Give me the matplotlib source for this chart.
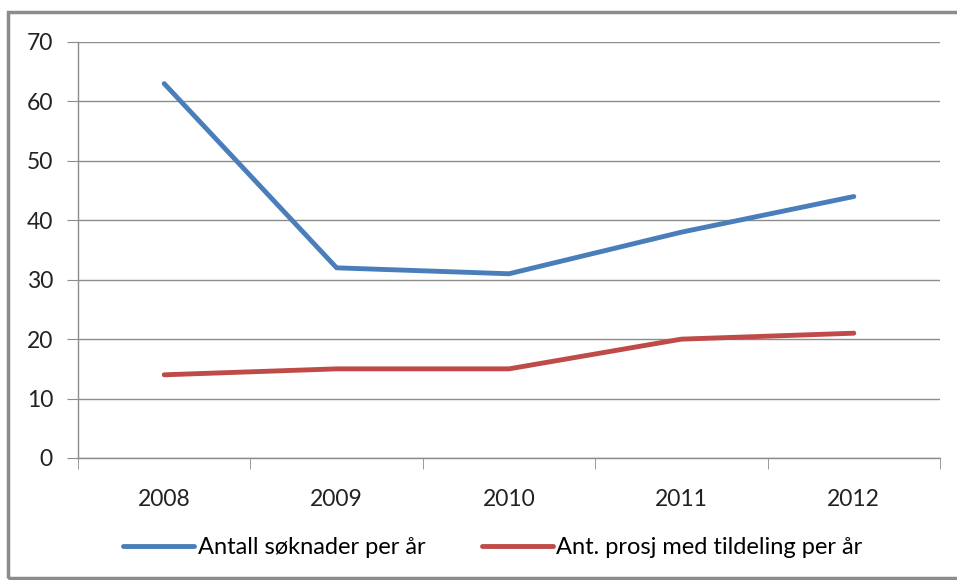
import matplotlib.pyplot as plt
import matplotlib.patches as patches
import numpy as np

# Data
years = ['2008', '2009', '2010', '2011', '2012']
soknader = [63, 32, 31, 38, 44]
tildeling = [14, 15, 15, 20, 21]
labels = ['Antall søknader per år', 'Ant. prosj med tildeling per år']

plt.rcParams['font.family'] = ['Lato', 'DejaVu Sans']

W, H = 957, 580
fig = plt.figure(figsize=(W / 100, H / 100), dpi=100)

# outer chart frame (cut off at the right edge)
frame = patches.Rectangle((8 / W, 2 / H), 1.0, (H - 14) / H, transform=fig.transFigure,
                          fill=False, edgecolor='#8c8c8c', linewidth=2.5)
fig.add_artist(frame)

ax = fig.add_axes([78 / W, (H - 458) / H, (940 - 78) / W, (458 - 42) / H])
x = np.arange(len(years))
ax.plot(x, soknader, color='#4a7ebb', linewidth=3.5, solid_capstyle='round', label=labels[0])
ax.plot(x, tildeling, color='#be4b48', linewidth=3.5, solid_capstyle='round', label=labels[1])

ax.set_xlim(-0.5, len(years) - 0.5)
ax.set_ylim(0, 70)
ax.set_yticks(range(0, 71, 10))
ax.set_xticks(x)
ax.set_xticklabels(years)
ax.set_xticks(np.arange(-0.5, len(years), 1), minor=True)

ax.grid(axis='y', color='#8c8c8c', linewidth=1)
ax.set_axisbelow(True)
for s in ['top', 'right']:
    ax.spines[s].set_visible(False)
for s in ['left', 'bottom']:
    ax.spines[s].set_color('#8c8c8c')
    ax.spines[s].set_linewidth(1)

ax.tick_params(axis='y', length=8, color='#8c8c8c', labelsize=16.5, pad=10, labelcolor='#222222')
ax.tick_params(axis='x', which='major', length=0, labelsize=16.5, pad=22, labelcolor='#222222')
ax.tick_params(axis='x', which='minor', length=8, color='#8c8c8c')

fig.legend(loc='center', bbox_to_anchor=(493 / W, (H - 548) / H), ncol=2, frameon=False,
           fontsize=17, handlelength=3.0, handletextpad=0.15, columnspacing=2.4)

fig.savefig('out.png', dpi=100)
